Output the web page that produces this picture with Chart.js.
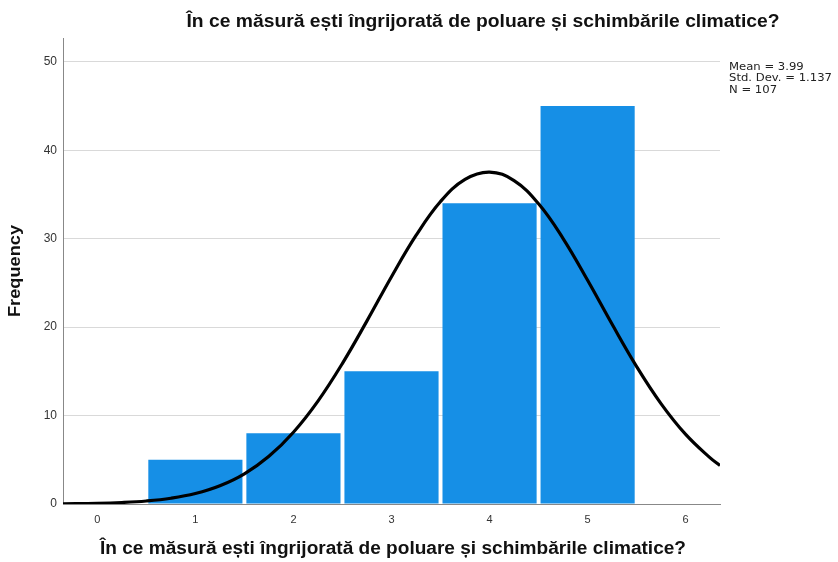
<!DOCTYPE html>
<html><head><meta charset="utf-8">
<script src="https://cdn.jsdelivr.net/npm/chart.js@4"></script>
<style>html,body{margin:0;padding:0;background:#fff}#wrap{width:838px;height:562px;position:relative}</style>
</head><body><div id="wrap"><canvas id="c" width="838" height="562"></canvas></div>
<script>
const titleText = "În ce măsură ești îngrijorată de poluare și schimbările climatice?";
const yTitleText = "Frequency";
const categories = [1, 2, 3, 4, 5];
const frequencies = [5, 8, 15, 34, 45];
const curveX = [-0.35, 0, 0.25, 0.5, 0.75, 1, 1.25, 1.5, 1.75, 2, 2.25, 2.5, 2.75, 3, 3.25, 3.5, 3.75, 4, 4.25, 4.5, 4.75, 5, 5.25, 5.5, 5.75, 6, 6.25, 6.35];
const curveY = [0.03, 0.08, 0.17, 0.34, 0.65, 1.18, 2.06, 3.41, 5.39, 8.12, 11.64, 15.91, 20.71, 25.7, 30.37, 34.21, 36.71, 37.54, 36.57, 33.95, 30.02, 25.3, 20.32, 15.54, 11.33, 7.87, 5.21, 4.35];
const xTicks = [0, 1, 2, 3, 4, 5, 6];
const yTicks = [0, 10, 20, 30, 40, 50];
const statsLines = ["Mean = 3.99", "Std. Dev. = 1.137", "N = 107"];

function fitText(ctx, text, x, y, width, align) {
  const w = ctx.measureText(text).width;
  const s = width / w;
  ctx.save();
  ctx.translate(x, y);
  ctx.scale(s, 1);
  ctx.textAlign = align;
  ctx.fillText(text, 0, 0);
  ctx.restore();
}

const overlay = {
  id: 'overlay',
  afterDraw(chart) {
    const ctx = chart.ctx;
    ctx.save();
    ctx.fillStyle = '#111';
    ctx.textBaseline = 'middle';
    ctx.font = 'bold 18px "Liberation Sans", sans-serif';
    fitText(ctx, titleText, 483, 22, 593, 'center');
    fitText(ctx, titleText, 393, 549, 586, 'center');
    ctx.save();
    ctx.translate(15, (chart.chartArea.top + chart.chartArea.bottom) / 2);
    ctx.rotate(-Math.PI / 2);
    ctx.font = 'bold 17px "Liberation Sans", sans-serif';
    fitText(ctx, yTitleText, 0, 0, 92, 'center');
    ctx.restore();
    ctx.font = '10px "DejaVu Sans", sans-serif';
    ctx.fillStyle = '#222';
    const w0 = ctx.measureText(statsLines[1]).width;
    const s = 103 / w0;
    statsLines.forEach((t, i) => {
      ctx.save();
      ctx.translate(729, 67 + i * 11.5);
      ctx.scale(s, 1);
      ctx.textAlign = 'left';
      ctx.fillText(t, 0, 0);
      ctx.restore();
    });
    ctx.restore();
  }
};

new Chart(document.getElementById('c'), {
  data: {
    datasets: [
      {
        type: 'line',
        data: curveX.map((x, i) => ({x, y: curveY[i]})),
        borderColor: '#000',
        borderWidth: 3.2,
        pointRadius: 0,
        tension: 0.4,
        fill: false,
        order: 0
      },
      {
        type: 'bar',
        data: categories.map((x, i) => ({x, y: frequencies[i]})),
        backgroundColor: '#168fe6',
        borderWidth: 0,
        barPercentage: 0.96,
        categoryPercentage: 1,
        order: 1
      }
    ]
  },
  plugins: [overlay],
  options: {
    responsive: false,
    animation: false,
    layout: {padding: {top: 38, right: 118, left: 0, bottom: 0}},
    plugins: {legend: {display: false}, tooltip: {enabled: false}},
    scales: {
      x: {
        type: 'linear',
        offset: false,
        min: -0.35, max: 6.35,
        afterBuildTicks(s) { s.ticks = xTicks.map(v => ({value: v})); },
        afterFit(s) { s.height = 58; },
        grid: {display: false, drawTicks: false, offset: false},
        border: {display: true, color: '#888', width: 1},
        ticks: {color: '#333', font: {size: 11, family: '"Liberation Sans", sans-serif'}, padding: 9}
      },
      y: {
        type: 'linear',
        min: 0, max: 52.7,
        afterBuildTicks(s) { s.ticks = yTicks.map(v => ({value: v})); },
        afterFit(s) { s.width = 63; },
        grid: {color: '#d9d9d9', lineWidth: 1, drawTicks: false},
        border: {display: true, color: '#888', width: 1},
        ticks: {color: '#333', font: {size: 12, family: '"Liberation Sans", sans-serif'}, padding: 6}
      }
    }
  }
});
</script>
</body></html>
